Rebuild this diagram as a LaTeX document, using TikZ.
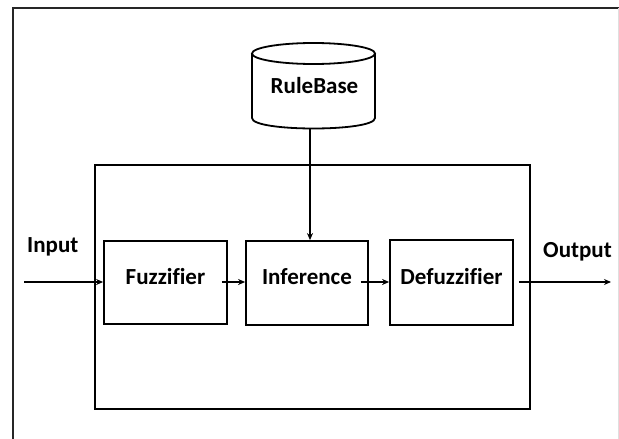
\documentclass[tikz,border=0pt]{standalone}
\usepackage{fontspec}
\setmainfont{Carlito}[Ligatures=NoCommon]
\usetikzlibrary{arrows.meta}
\begin{document}
\begin{tikzpicture}[x=1pt,y=-1pt,
  blk/.style={draw, line width=1.8pt, inner sep=0pt},
  lbl/.style={font=\bfseries\fontsize{23}{26}\selectfont, inner sep=0pt},
  arr/.style={-{Stealth[length=7pt,width=6pt]}, line width=1.4pt}]
\useasboundingbox (0,0) rectangle (619,439);
% outer frame
\draw[line width=2pt, black!85] (13,439) -- (13,8) -- (619,8);
\draw[gray!25, line width=1pt] (618,8) -- (618,439);
% main box
\node[blk, minimum width=435pt, minimum height=244pt] (main) at (312.5,287) {};
% rule base cylinder
\draw[line width=1.8pt] (313.5,53.5) ellipse[x radius=61.5, y radius=10.5];
\draw[line width=1.8pt] (252,53.5) -- (252,118) .. controls (252,132) and (375,132) .. (375,118) -- (375,53.5);
\node[lbl, anchor=base] (rb) at (314.5,93) {RuleBase};
\coordinate (rbb) at (310,128);
% blocks
\node[blk, minimum width=123pt, minimum height=83pt] (fuz) at (165.5,282.5) {};
\node[blk, minimum width=122pt, minimum height=84pt] (inf) at (307,283) {};
\node[blk, minimum width=123pt, minimum height=85pt] (def) at (451.5,282.5) {};
\coordinate (tb) at (0,284);
\node[lbl, anchor=base] (fuzt) at (fuz |- tb) {Fuzzifier};
\node[lbl, anchor=base] (inft) at (inf |- tb) {Inference};
\node[lbl, anchor=base] (deft) at (def |- tb) {Defuzzifier};
% io labels
\node[lbl, anchor=base west] (inl) at (27,252) {Input};
\node[lbl, anchor=base west] (outl) at (543,257) {Output};
\coordinate (inp) at (24,282);
\coordinate (outp) at (611,282);
% connectors
\draw[arr] (inp) -- (inp -| fuz.west);
\draw[arr] ([xshift=-6pt]fuz.east |- inp) -- (inf.west |- inp);
\draw[arr] ([xshift=-8pt]inf.east |- inp) -- (def.west |- inp);
\draw[arr] ([xshift=5pt]def.east |- inp) -- (outp);
\draw[arr] (rbb) -- (rbb |- inf.north);
\end{tikzpicture}
\end{document}
